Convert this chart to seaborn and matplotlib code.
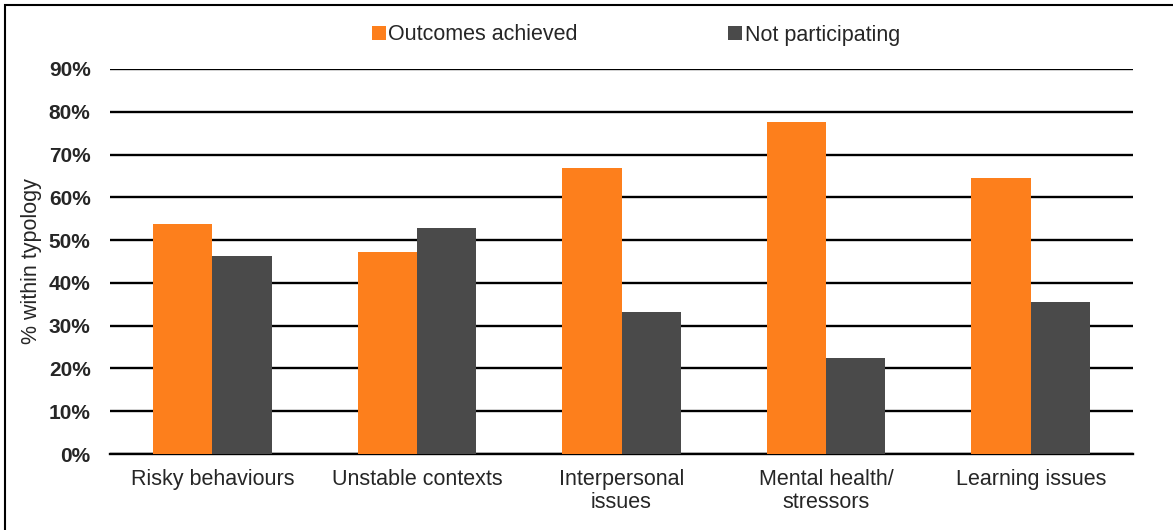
import matplotlib
matplotlib.use("Agg")
import matplotlib.pyplot as plt
import seaborn as sns
import pandas as pd
from matplotlib.patches import Rectangle
from matplotlib.ticker import FuncFormatter

categories = ["Risky behaviours", "Unstable contexts", "Interpersonal\nissues",
              "Mental health/\nstressors", "Learning issues"]
outcomes_achieved = [53.7, 47.2, 66.8, 77.6, 64.5]
not_participating = [46.3, 52.8, 33.2, 22.4, 35.5]
series_names = ["Outcomes achieved", "Not participating"]
colors = ["#FD7F1C", "#4A4A4A"]
yticks = [0, 10, 20, 30, 40, 50, 60, 70, 80, 90]

df = pd.DataFrame({
    "category": categories * 2,
    "series": [series_names[0]] * len(categories) + [series_names[1]] * len(categories),
    "value": outcomes_achieved + not_participating,
})

sns.set_theme(style="white")
plt.rcParams["font.family"] = ["Liberation Sans", "DejaVu Sans"]

fig = plt.figure(figsize=(11.73, 5.30), dpi=100)
ax = fig.add_axes([110 / 1173, 1 - 454 / 530, (1133 - 110) / 1173, (454 - 69) / 530])

sns.barplot(data=df, x="category", y="value", hue="series", palette=colors,
            width=0.58, ax=ax, saturation=1, edgecolor="none", zorder=3)
ax.get_legend().remove()

ax.set_ylim(0, 90)
ax.set_yticks(yticks)
ax.yaxis.set_major_formatter(FuncFormatter(lambda v, p: f"{int(v)}%"))
ax.grid(axis="y", color="black", linewidth=1.7, zorder=0)
ax.set_axisbelow(True)
for s in ["left", "right", "top"]:
    ax.spines[s].set_visible(False)
ax.spines["bottom"].set_color("black")
ax.spines["bottom"].set_linewidth(1.7)
ax.tick_params(axis="y", length=0, pad=14, labelsize=15)
ax.tick_params(axis="x", length=0, pad=11, labelsize=15.5)
for lbl in ax.get_yticklabels():
    lbl.set_fontweight("bold")
for lbl in ax.get_xticklabels():
    lbl.set_linespacing(1.1)
ax.set_xlabel("")
ax.set_ylabel("% within typology", fontsize=15.5)
ax.yaxis.set_label_coords(-68 / 1023, 0.5)

handles = [Rectangle((0, 0), 1, 1, facecolor=c, edgecolor="none") for c in colors]
fig.legend(handles, series_names, loc="center", bbox_to_anchor=(636 / 1173, 1 - 35 / 530),
           ncol=2, frameon=False, fontsize=15.5, handlelength=0.65, handleheight=0.65,
           handletextpad=0.1, columnspacing=7.0)

fig.patches.append(Rectangle((5 / 1173, -0.1), 1.2, (1 - 5 / 530) + 0.1,
                             transform=fig.transFigure, fill=False,
                             edgecolor="black", linewidth=1.5))

fig.savefig("out.png", dpi=100)
